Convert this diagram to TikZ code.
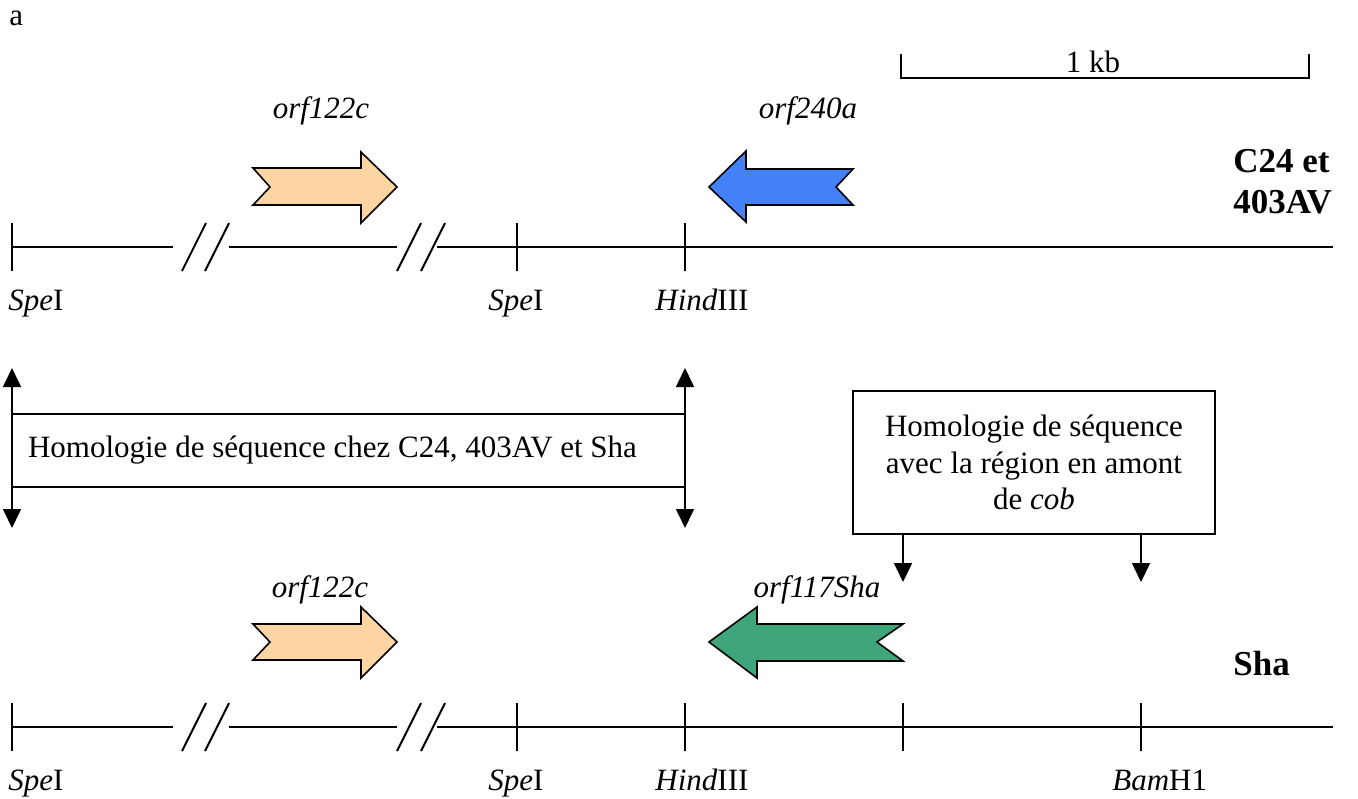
\documentclass[tikz,border=0pt]{standalone}
\usepackage{fontspec}
\setmainfont{Liberation Serif}
\usetikzlibrary{arrows.meta,positioning}
\definecolor{OrfPeach}{HTML}{FDD5A3}
\definecolor{OrfBlue}{HTML}{4281F8}
\definecolor{OrfGreen}{HTML}{3FA67B}
\tikzset{
  txt/.style={inner sep=0pt,font=\fontsize{15.5}{18.25}\selectfont},
  site/.style={txt,anchor=base west},
  orf/.style={txt,anchor=base,font=\fontsize{15.5}{18.25}\selectfont\itshape},
  strain/.style={txt,anchor=base west,font=\fontsize{17.5}{20}\selectfont\bfseries},
  backbone/.style={line width=1pt},
  gene/.style={draw=black,line width=0.8pt,line join=miter},
  pointer/.style={-{Triangle[length=9.5pt,width=9pt]},line width=0.8pt},
  twoway/.style={{Triangle[length=9.5pt,width=9pt]}-{Triangle[length=9.5pt,width=9pt]},line width=0.8pt},
  box/.style={draw,line width=0.8pt,txt,align=center}
}

\begin{document}
\begin{tikzpicture}[x=0.5pt,y=-0.5pt]
  \useasboundingbox (0,0) rectangle (1358,798);
  \node[site] (panel) at (9,25) {a};
  % scale bar
  \node[txt,anchor=base] (kb) at (1093,72) {1 kb};
  \draw[line width=0.8pt] (901,54) |- (1309,78) -- (1309,54);
  % C24 et 403AV
  \node[orf] (orfA) at (321,118) {orf122c};
  \node[orf] (orfB) at (808,118) {orf240a};
  \node[strain] (c24) at (1233,172) {C24 et};
  \node[strain] (av) at (1233,213) {403AV};
  \draw[gene,fill=OrfPeach] (253,168) -- (361,168) -- (361,152) -- (397,187) -- (361,223) -- (361,205) -- (253,205) -- (270,187) -- cycle;
  \draw[gene,fill=OrfBlue] (853,169) -- (746,169) -- (746,151) -- (709,187) -- (746,222) -- (746,205) -- (853,205) -- (836,187) -- cycle;
  \draw[backbone] (12,247) -- (173,247) (229,247) -- (397,247) (437,247) -- (1333,247);
  \foreach \x in {182,205,397,421} \draw[backbone] (\x,271) -- ++(24,-48);
  \foreach \x in {12,517,685} \draw[backbone] (\x,223) -- (\x,271);
  \node[site] (speA) at (8,310) {\textit{Spe}I};
  \node[site] (speB) at (488,310) {\textit{Spe}I};
  \node[site] (hindA) at (655,310) {\textit{Hind}III};
  % homologies
  \node[box,align=flush left,inner xsep=8pt,text width=320.5pt,minimum height=36.5pt] (common) at (348.5,450.5) {Homologie de séquence chez C24, 403AV et Sha};
  \coordinate (upL) at (12,368); \coordinate (dnL) at (12,528);
  \coordinate (upR) at (685,368); \coordinate (dnR) at (685,528);
  \draw[twoway] (upL) -- (dnL);
  \draw[twoway] (upR) -- (dnR);
  \node[box,minimum width=181pt,minimum height=71.5pt] (cobbox) at (1034,462.5) {Homologie de séquence\\avec la région en amont\\de \textit{cob}};
  \coordinate (tipA) at (903,582); \coordinate (tipB) at (1141,582);
  \draw[pointer] (tipA |- cobbox.south) -- (tipA);
  \draw[pointer] (tipB |- cobbox.south) -- (tipB);
  % Sha
  \node[orf] (orfC) at (320,597) {orf122c};
  \node[orf] (orfD) at (817,597) {orf117Sha};
  \node[strain] (sha) at (1233,675) {Sha};
  \draw[gene,fill=OrfPeach] (253,624) -- (361,624) -- (361,607) -- (397,642) -- (361,678) -- (361,660) -- (253,660) -- (270,642) -- cycle;
  \draw[gene,fill=OrfGreen] (903,624) -- (757,624) -- (757,607) -- (709,642) -- (757,678) -- (757,661) -- (903,661) -- (877,642) -- cycle;
  \draw[backbone] (12,727) -- (173,727) (229,727) -- (397,727) (437,727) -- (1333,727);
  \foreach \x in {182,205,397,421} \draw[backbone] (\x,751) -- ++(24,-48);
  \foreach \x in {12,517,685,903,1141} \draw[backbone] (\x,703) -- (\x,751);
  \node[site] (speC) at (8,790) {\textit{Spe}I};
  \node[site] (speD) at (488,790) {\textit{Spe}I};
  \node[site] (hindB) at (655,790) {\textit{Hind}III};
  \node[site] (bam) at (1112,790) {\textit{Bam}H1};
\end{tikzpicture}
\end{document}
